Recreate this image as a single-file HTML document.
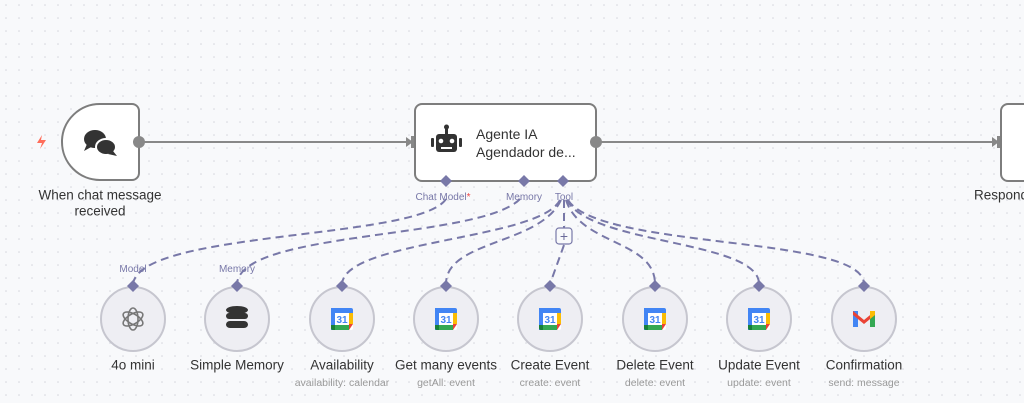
<!DOCTYPE html>
<html><head><meta charset="utf-8"><style>
html,body{margin:0;padding:0;width:1024px;height:403px;overflow:hidden;background:#f8f9fb;}
svg{display:block;font-family:"Liberation Sans",sans-serif;}
</style></head><body>
<svg width="1024" height="403" viewBox="0 0 1024 403" xmlns="http://www.w3.org/2000/svg">
<defs>
<pattern id="dots" width="13" height="13" patternUnits="userSpaceOnUse" x="5" y="4">
<circle cx="1" cy="1" r="0.8" fill="#d4d6dc"/></pattern>
<g id="gcal">
<rect x="-11" y="-11" width="22" height="22" rx="2" fill="#fff"/>
<path d="M-11 -9 a2 2 0 0 1 2 -2 H9 a2 2 0 0 1 2 2 V-5 H-11Z" fill="#4285f4"/>
<rect x="-11" y="-11" width="4" height="22" fill="#4285f4"/>
<rect x="7" y="-6" width="4" height="11" fill="#fbbc04"/>
<rect x="-7" y="6" width="14" height="5" fill="#34a853"/>
<path d="M-11 6 H-7 V11 H-9 a2 2 0 0 1 -2 -2Z" fill="#188038"/>
<path d="M7 5 H11 L7 11Z" fill="#ea4335"/>
<rect x="-7" y="-6" width="14" height="12" fill="#fff"/>
<text x="0" y="4" font-size="10" font-weight="bold" fill="#4285f4" text-anchor="middle">31</text>
</g>
</defs>
<rect width="1024" height="403" fill="#f8f9fb"/>
<rect width="1024" height="403" fill="url(#dots)"/>

<line x1="139" y1="142" x2="410" y2="142" stroke="#888" stroke-width="2"/>
<path d="M406 137 L413 142 L406 147Z" fill="#888"/>
<rect x="411" y="136" width="5" height="12" fill="#888"/>
<line x1="596" y1="142" x2="996" y2="142" stroke="#888" stroke-width="2"/>
<path d="M992 137 L999 142 L992 147Z" fill="#888"/>
<rect x="997" y="136" width="5" height="12" fill="#888"/>

<g fill="none" stroke="#7878a8" stroke-width="2" stroke-dasharray="8,5">
<path d="M446 199 C420 240 140 230 133 284"/>
<path d="M520 199 C480 240 240 230 237 284"/>
<path d="M560 200 C540 240 345 240 342 284"/>
<path d="M561 200 C540 245 446 240 446 284"/>
<path d="M564 200 L564 228"/>
<path d="M564 245 L550 284"/>
<path d="M566 200 C580 245 655 240 655 284"/>
<path d="M567 200 C590 245 759 240 759 284"/>
<path d="M568 200 C600 250 864 235 864 284"/>
</g>
<rect x="556" y="228" width="16" height="16" rx="3" fill="#f8f9fb" stroke="#7878a8" stroke-width="1.2"/>
<text x="564" y="241" font-size="14" fill="#6a6a9a" text-anchor="middle">+</text>

<path d="M62 140 A38 38 0 0 1 100 104 H132 a7 7 0 0 1 7 7 V173 a7 7 0 0 1 -7 7 H100 A38 38 0 0 1 62 142Z" fill="#fff" stroke="#7d7d7d" stroke-width="2"/>
<circle cx="139" cy="142" r="6" fill="#888"/>
<path d="M42 135 L37 143 H42 L40 149 L46 140 H41Z" fill="#ff6d5a"/>
<g fill="#333">
<ellipse cx="95" cy="139" rx="11" ry="9"/>
<path d="M87 144 L84 151 L93 146Z"/>
<ellipse cx="106" cy="147" rx="10" ry="8" stroke="#fff" stroke-width="2"/>
<path d="M113 151 L117 156 L108 154Z"/>
</g>
<text x="100" y="199.5" font-size="13.5" fill="#333" text-anchor="middle">When chat message</text>
<text x="100" y="215.5" font-size="13.5" fill="#333" text-anchor="middle">received</text>

<rect x="415" y="104" width="181" height="77" rx="7" fill="#fff" stroke="#7d7d7d" stroke-width="2"/>
<circle cx="596" cy="142" r="6" fill="#888"/>
<g fill="#333">
<rect x="436" y="134" width="21" height="18" rx="3"/>
<rect x="431" y="138" width="3" height="9" rx="1"/>
<rect x="459" y="138" width="3" height="9" rx="1"/>
<rect x="445" y="128" width="3" height="6"/>
<circle cx="446.5" cy="127" r="2.5"/>
</g>
<circle cx="441" cy="141" r="2.3" fill="#fff"/><circle cx="452" cy="141" r="2.3" fill="#fff"/>
<rect x="441" y="147" width="11" height="2" fill="#fff"/>
<text x="476" y="139" font-size="14" fill="#333">Agente IA</text>
<text x="476" y="157" font-size="14" fill="#333">Agendador de...</text>
<g fill="#7878a8">
<path d="M446 175 l6 6 -6 6 -6 -6Z"/>
<path d="M524 175 l6 6 -6 6 -6 -6Z"/>
<path d="M563 175 l6 6 -6 6 -6 -6Z"/>
</g>
<g font-size="10" fill="#7878a8" text-anchor="middle">
<text x="443" y="200">Chat Model<tspan fill="#e44">*</tspan></text>
<text x="524" y="200">Memory</text>
<text x="564" y="200">Tool</text>
<text x="133" y="272">Model</text>
<text x="237" y="272">Memory</text>
</g>

<rect x="1001" y="104" width="40" height="77" rx="7" fill="#fff" stroke="#7d7d7d" stroke-width="2"/>
<text x="974" y="199.5" font-size="13.5" fill="#333">Respond</text>

<g fill="#eeeef3" stroke="#c6c6cf" stroke-width="2">
<circle cx="133" cy="319" r="32"/><circle cx="237" cy="319" r="32"/>
<circle cx="342" cy="319" r="32"/><circle cx="446" cy="319" r="32"/>
<circle cx="550" cy="319" r="32"/><circle cx="655" cy="319" r="32"/>
<circle cx="759" cy="319" r="32"/><circle cx="864" cy="319" r="32"/>
</g>
<g fill="#7878a8">
<path d="M133 280 l6 6 -6 6 -6 -6Z"/><path d="M237 280 l6 6 -6 6 -6 -6Z"/>
<path d="M342 280 l6 6 -6 6 -6 -6Z"/><path d="M446 280 l6 6 -6 6 -6 -6Z"/>
<path d="M550 280 l6 6 -6 6 -6 -6Z"/><path d="M655 280 l6 6 -6 6 -6 -6Z"/>
<path d="M759 280 l6 6 -6 6 -6 -6Z"/><path d="M864 280 l6 6 -6 6 -6 -6Z"/>
</g>
<g fill="none" stroke="#777" stroke-width="1.6">
<ellipse cx="133" cy="319" rx="5" ry="11"/>
<ellipse cx="133" cy="319" rx="5" ry="11" transform="rotate(60 133 319)"/>
<ellipse cx="133" cy="319" rx="5" ry="11" transform="rotate(-60 133 319)"/>
</g>
<g fill="#333">
<ellipse cx="237" cy="310" rx="11" ry="4"/>
<rect x="226" y="313" width="22" height="6" rx="3"/>
<rect x="226" y="321" width="22" height="7" rx="4"/>
</g>
<use href="#gcal" x="342" y="319"/>
<use href="#gcal" x="446" y="319"/>
<use href="#gcal" x="550" y="319"/>
<use href="#gcal" x="655" y="319"/>
<use href="#gcal" x="759" y="319"/>
<g>
<rect x="853" y="311" width="5" height="16" fill="#4285f4"/>
<rect x="870" y="311" width="5" height="16" fill="#34a853"/>
<path d="M853 311 L864 320 L875 311 L875 315 L864 324 L853 315Z" fill="#ea4335"/>
<path d="M870 311 h5 v4 l-5 4Z" fill="#fbbc04"/>
</g>

<g font-size="13.5" fill="#333" text-anchor="middle">
<text x="133" y="369.5">4o mini</text>
<text x="237" y="369.5">Simple Memory</text>
<text x="342" y="369.5">Availability</text>
<text x="446" y="369.5">Get many events</text>
<text x="550" y="369.5">Create Event</text>
<text x="655" y="369.5">Delete Event</text>
<text x="759" y="369.5">Update Event</text>
<text x="864" y="369.5">Confirmation</text>
</g>
<g font-size="10.5" fill="#999" text-anchor="middle">
<text x="342" y="386">availability: calendar</text>
<text x="446" y="386">getAll: event</text>
<text x="550" y="386">create: event</text>
<text x="655" y="386">delete: event</text>
<text x="759" y="386">update: event</text>
<text x="864" y="386">send: message</text>
</g>
</svg>
</body></html>
